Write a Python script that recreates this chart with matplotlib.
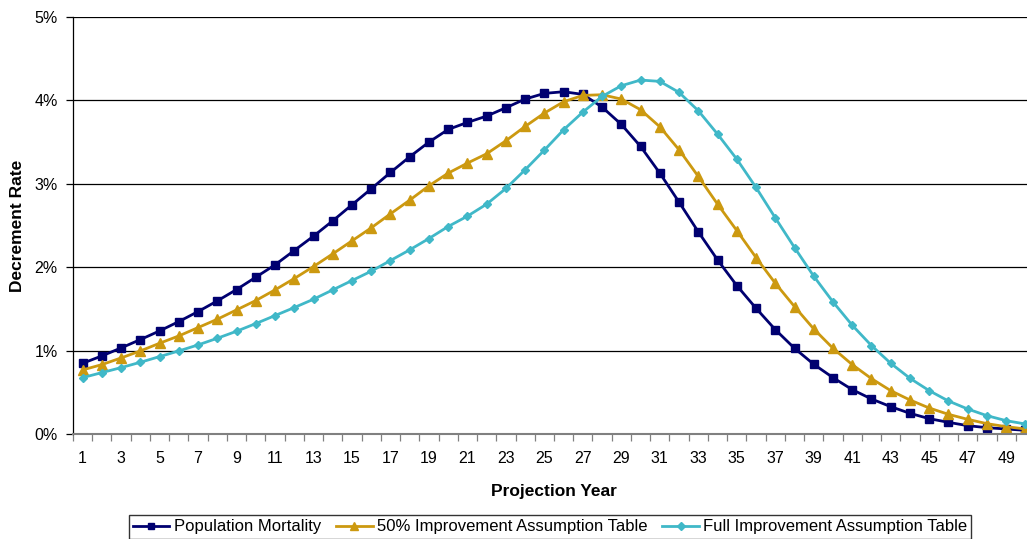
import numpy as np
import matplotlib
matplotlib.use('Agg')
import matplotlib.pyplot as plt
from matplotlib.ticker import FuncFormatter

plt.rcParams['font.family'] = ['Liberation Sans', 'DejaVu Sans']

# data (decrement rate, percent)
years = np.arange(1, 51)
population = [0.848, 0.936, 1.032, 1.132, 1.236, 1.348, 1.468, 1.596, 1.732, 1.880,
              2.028, 2.200, 2.372, 2.556, 2.748, 2.940, 3.136, 3.324, 3.500, 3.652,
              3.736, 3.812, 3.912, 4.016, 4.084, 4.104, 4.072, 3.920, 3.712, 3.448,
              3.128, 2.780, 2.424, 2.088, 1.780, 1.508, 1.252, 1.028, 0.836, 0.676,
              0.532, 0.420, 0.328, 0.248, 0.184, 0.140, 0.100, 0.076, 0.060, 0.044]
half_impr = [0.768, 0.832, 0.912, 0.996, 1.088, 1.176, 1.276, 1.376, 1.488, 1.600,
             1.728, 1.864, 2.008, 2.160, 2.316, 2.472, 2.640, 2.804, 2.976, 3.128,
             3.248, 3.360, 3.516, 3.688, 3.848, 3.984, 4.060, 4.068, 4.016, 3.888,
             3.684, 3.408, 3.088, 2.756, 2.440, 2.116, 1.808, 1.528, 1.260, 1.028,
             0.832, 0.664, 0.520, 0.408, 0.312, 0.236, 0.176, 0.124, 0.088, 0.060]
full_impr = [0.676, 0.736, 0.796, 0.860, 0.928, 0.996, 1.068, 1.148, 1.232, 1.324,
             1.420, 1.516, 1.616, 1.728, 1.840, 1.952, 2.080, 2.208, 2.344, 2.488,
             2.612, 2.756, 2.944, 3.168, 3.404, 3.648, 3.860, 4.048, 4.176, 4.244,
             4.228, 4.096, 3.876, 3.596, 3.296, 2.956, 2.592, 2.236, 1.892, 1.584,
             1.304, 1.060, 0.848, 0.668, 0.520, 0.396, 0.300, 0.220, 0.160, 0.120]
labels = ['Population Mortality', '50% Improvement Assumption Table',
          'Full Improvement Assumption Table']

W, H = 1027, 539
fig = plt.figure(figsize=(W/100, H/100), dpi=100)
ax = fig.add_axes([73/W, (H-434)/H, (1035-73)/W, (434-17)/H])

ax.plot(years, population, color='#000070', lw=2.0, marker='s', ms=6, label=labels[0])
ax.plot(years, half_impr, color='#CC9910', lw=2.0, marker='^', ms=6.5, label=labels[1])
ax.plot(years, full_impr, color='#40B8C8', lw=2.0, marker='D', ms=4.5, label=labels[2])

ax.set_xlim(0.5, 50.5)
ax.set_ylim(0, 5)
ax.set_yticks(np.arange(0, 6))
ax.yaxis.set_major_formatter(FuncFormatter(lambda v, p: '%d%%' % v))
ax.grid(axis='y', color='black', lw=0.9)
ax.set_axisbelow(True)

ax.set_xticks(np.arange(1, 50, 2))
ax.set_xticks(np.arange(0.5, 51, 1), minor=True)
ax.tick_params(axis='x', which='major', length=0, pad=12, labelsize=11.5)
ax.tick_params(axis='x', which='minor', length=5, width=0.9, color='#808080')
ax.tick_params(axis='y', length=5, width=0.9, pad=6, labelsize=11.5)

for s in ('top', 'right'):
    ax.spines[s].set_visible(False)
ax.spines['left'].set_linewidth(0.9)
ax.spines['bottom'].set_color('#808080')
ax.spines['bottom'].set_linewidth(1.5)

ax.set_xlabel('Projection Year', fontsize=12.5, fontweight='bold', labelpad=13)
ax.set_ylabel('Decrement Rate', fontsize=12.5, fontweight='bold', labelpad=7)

# legend sits at the bottom edge, as in the reference
leg = fig.legend(loc='upper center', bbox_to_anchor=(550/W, (H-507)/H), ncol=3,
                 fontsize=12, frameon=True, fancybox=False, edgecolor='black',
                 handlelength=2.2, handletextpad=0.25, columnspacing=0.9,
                 borderpad=0.25, markerscale=0.8)
leg.get_frame().set_linewidth(1.0)

fig.savefig('out.png', dpi=100)
